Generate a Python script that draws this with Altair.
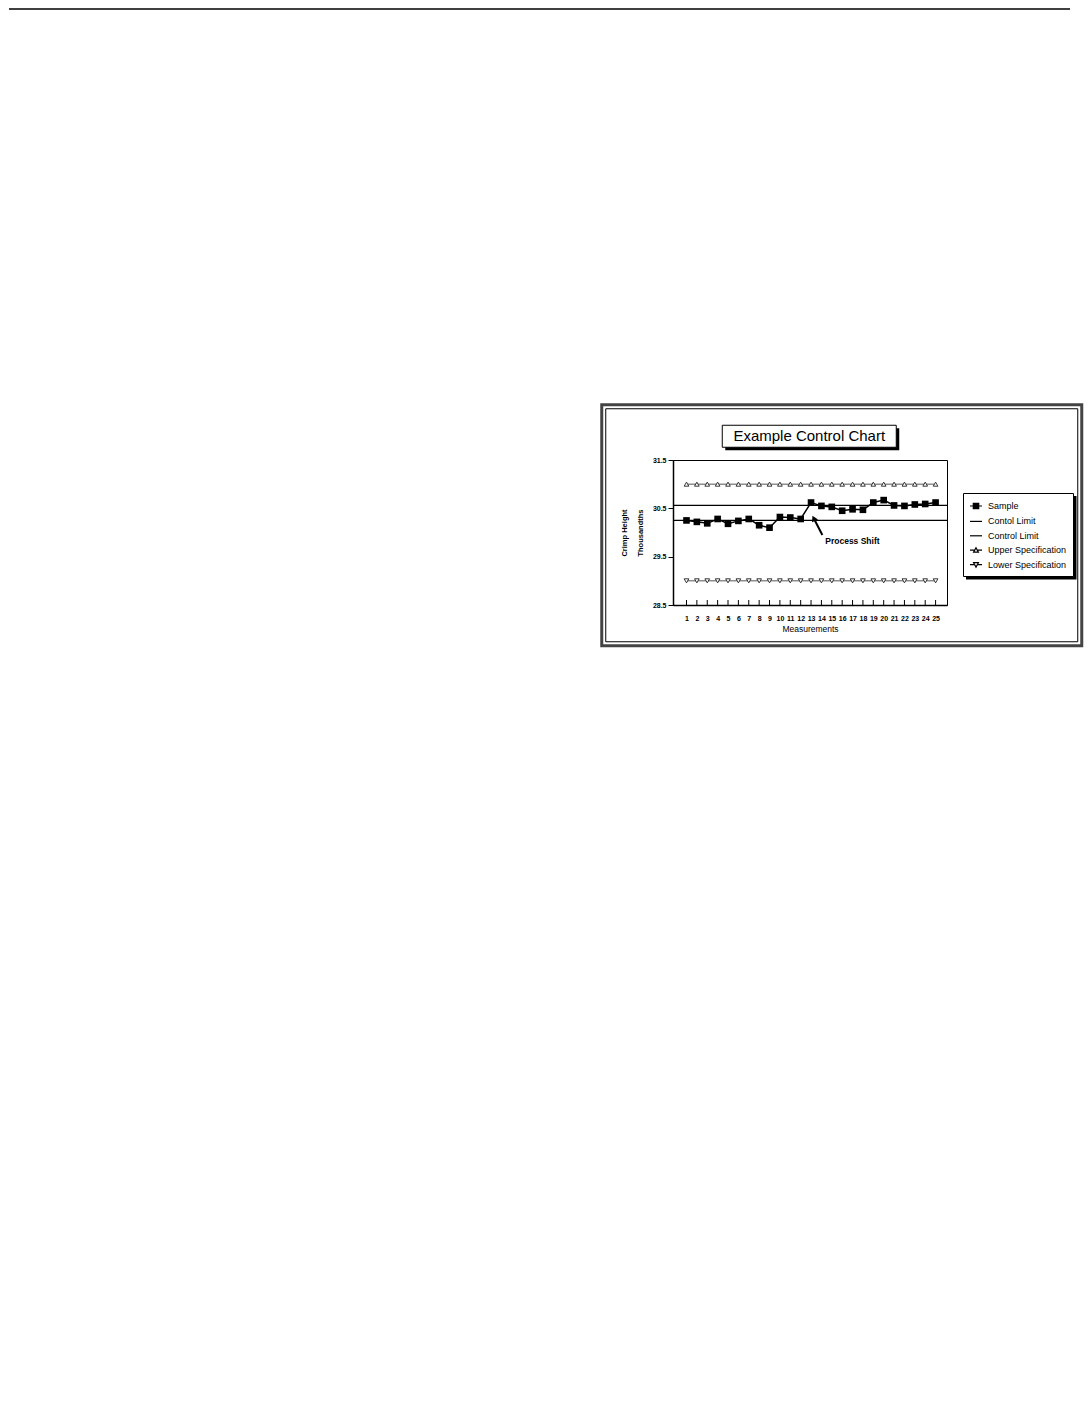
import altair as alt
import pandas as pd

# ---------------- data ----------------
measurements = [1, 2, 3, 4, 5, 6, 7, 8, 9, 10, 11, 12, 13, 14, 15, 16, 17, 18, 19, 20, 21, 22, 23, 24, 25]
sample = [30.25, 30.22, 30.19, 30.28, 30.18, 30.24, 30.28, 30.15, 30.10, 30.32, 30.31, 30.28, 30.62,
          30.55, 30.53, 30.45, 30.48, 30.47, 30.62, 30.67, 30.56, 30.55, 30.58, 30.59, 30.62]
control_limits = [30.56, 30.25]
control_labels = ["Contol Limit", "Control Limit"]
upper_spec = [31.0] * 25
lower_spec = [29.0] * 25
y_ticks = [28.5, 29.5, 30.5, 31.5]
series_names = ["Sample", "Contol Limit", "Control Limit", "Upper Specification", "Lower Specification"]
title_text = "Example Control Chart"
y_title = ["Crimp Height", "Thousandths"]
x_title = "Measurements"
annotation_text = ["Process Shift"]
arrow_x = [14.09, 13.26]
arrow_y = [29.95, 30.295]
label_x = [14.37]
label_y = [29.83]

FONT = "Liberation Sans"
W, H = 274, 145

sample_df = pd.DataFrame({"m": measurements, "v": sample})
upper_df = pd.DataFrame({"m": measurements, "v": upper_spec})
lower_df = pd.DataFrame({"m": measurements, "v": lower_spec})
ctrl_df = pd.DataFrame({"v": control_limits, "series": control_labels})
arrow_df = pd.DataFrame({"m": arrow_x, "v": arrow_y, "o": [0, 1]})
head_df = pd.DataFrame({"m": arrow_x[1:], "v": arrow_y[1:]})
label_df = pd.DataFrame({"m": label_x, "v": label_y, "t": annotation_text})
legend_df = pd.DataFrame({"series": series_names})
one = pd.DataFrame({"k": [0]})

xscale = alt.Scale(domain=[-0.3, 26.1], nice=False, zero=False)
yscale = alt.Scale(domain=[28.5, 31.5], nice=False, zero=False)
xaxis = alt.Axis(values=measurements, format="d", grid=False, ticks=False, tickSize=0,
                 labelPadding=9, labelFontSize=7, labelFontWeight="bold", labelAngle=0,
                 labelOverlap=False, labelFlush=False, title=x_title, titleFontSize=8.5,
                 titleFontWeight="normal", titlePadding=3)
yaxis = alt.Axis(values=y_ticks, format=".1f", grid=False, tickSize=5, labelFontSize=7,
                 labelFontWeight="bold", labelPadding=2, title=y_title, titleFontSize=7.5,
                 titleFontWeight="bold", titleX=-45, titleY=72.5, titleAngle=270,
                 titleLineHeight=16.5, titleBaseline="bottom", titleAlign="center")


def X(f="m"):
    return alt.X(f"{f}:Q", scale=xscale, axis=xaxis)


def Y(f="v"):
    return alt.Y(f"{f}:Q", scale=yscale, axis=yaxis)


def box(x1, x2, y1, y2, **kw):
    return alt.Chart(one).mark_rect(**kw).encode(
        x=alt.value(x1), x2=alt.value(x2), y=alt.value(y1), y2=alt.value(y2))


# decorations (page rule, frame, title box, legend shadow)
page_rule = alt.Chart(one).mark_rule(color="black", strokeWidth=1.5).encode(
    x=alt.value(-664), x2=alt.value(397), y=alt.value(-451))
outer = box(-71.25, 408.75, -55.25, 185.75, fillOpacity=0, stroke="#444", strokeWidth=3)
inner = box(-67.25, 404.75, -51.25, 181.75, fillOpacity=0, stroke="black", strokeWidth=1)
title_shadow = box(52.25, 226.25, -31.75, -9.75, fill="black")
title_box = box(49.25, 223.25, -34.75, -12.75, fill="white", stroke="black", strokeWidth=1)
legend_shadow = box(293, 403.5, 36, 119.5, fill="black")
title_mark = alt.Chart(one).mark_text(text=title_text, font=FONT, fontSize=15, color="black",
                                      align="center", baseline="alphabetic").encode(
    x=alt.value(136.25), y=alt.value(-18.75))

# data layers
upper_line = alt.Chart(upper_df).mark_line(color="#555", strokeWidth=1).encode(x=X(), y=Y())
lower_line = alt.Chart(lower_df).mark_line(color="#555", strokeWidth=1).encode(x=X(), y=Y())
upper_pts = alt.Chart(upper_df).mark_point(shape="triangle-up", size=22, filled=True, fill="white",
                                           stroke="#222", strokeWidth=0.9, opacity=1).encode(x=X(), y=Y())
lower_pts = alt.Chart(lower_df).mark_point(shape="triangle-down", size=22, filled=True, fill="white",
                                           stroke="#222", strokeWidth=0.9, opacity=1).encode(x=X(), y=Y())
ctrl = alt.Chart(ctrl_df).mark_rule(color="black", strokeWidth=1.2).encode(y=Y())
sample_line = alt.Chart(sample_df).mark_line(color="black", strokeWidth=1.5).encode(x=X(), y=Y())
sample_pts = alt.Chart(sample_df).mark_square(color="black", size=44, opacity=1).encode(x=X(), y=Y())
xticks = alt.Chart(sample_df).mark_rule(color="black", strokeWidth=1).encode(
    x=X(), y=alt.value(H), y2=alt.value(H - 5))
arrow = alt.Chart(arrow_df).mark_line(color="black", strokeWidth=2).encode(
    x=X(), y=Y(), order="o:Q")
head = alt.Chart(head_df).mark_point(shape="triangle-up", filled=True, color="black", size=45,
                                     angle=334, opacity=1).encode(x=X(), y=Y())
label = alt.Chart(label_df).mark_text(font=FONT, fontSize=8.5, fontWeight="bold", color="black",
                                      align="left", baseline="middle").encode(x=X(), y=Y(), text="t:N")

# legend
paths = [
    "M-1,0H1M-0.45,-0.45H0.45V0.45H-0.45Z",
    "M-1,0H1",
    "M-1,0H1",
    "M-1,0H-0.25M0.25,0H1M0,-0.42L0.4,0.32H-0.4Z",
    "M-1,0H-0.25M0.25,0H1M0,0.42L0.4,-0.32H-0.4Z",
]
fills = ["black", "white", "white", "white", "white"]
strokes = ["black"] * 5
leg = alt.Legend(title=None, orient="none", legendX=290, legendY=33, strokeColor="black",
                 fillColor="white", padding=6, labelFont=FONT, labelFontSize=9, labelColor="black",
                 symbolSize=144, symbolStrokeWidth=1.2, symbolStrokeColor="black", rowPadding=2.4,
                 labelOffset=5, cornerRadius=0)
legend_layer = alt.Chart(legend_df).transform_filter("false").mark_point(
    filled=True, strokeWidth=1.2, opacity=1).encode(
    shape=alt.Shape("series:N", scale=alt.Scale(domain=series_names, range=paths), legend=leg),
    fill=alt.Fill("series:N", scale=alt.Scale(domain=series_names, range=fills), legend=leg),
    stroke=alt.Stroke("series:N", scale=alt.Scale(domain=series_names, range=strokes), legend=leg),
)

chart = alt.layer(
    page_rule, outer, inner, title_shadow, title_box, title_mark, legend_shadow,
    upper_line, lower_line, ctrl, sample_line, upper_pts, lower_pts, sample_pts,
    xticks, arrow, head, label, legend_layer,
).properties(
    width=W, height=H, padding=0, autosize=alt.AutoSizeParams(type="pad"),
).configure_view(stroke="black", strokeWidth=1).configure_axis(
    domainColor="black", domainWidth=1.5, tickColor="black", labelColor="black",
    titleColor="black", labelFont=FONT, titleFont=FONT,
)

chart.save("out.html", embed_options={"renderer": "svg", "actions": False})
